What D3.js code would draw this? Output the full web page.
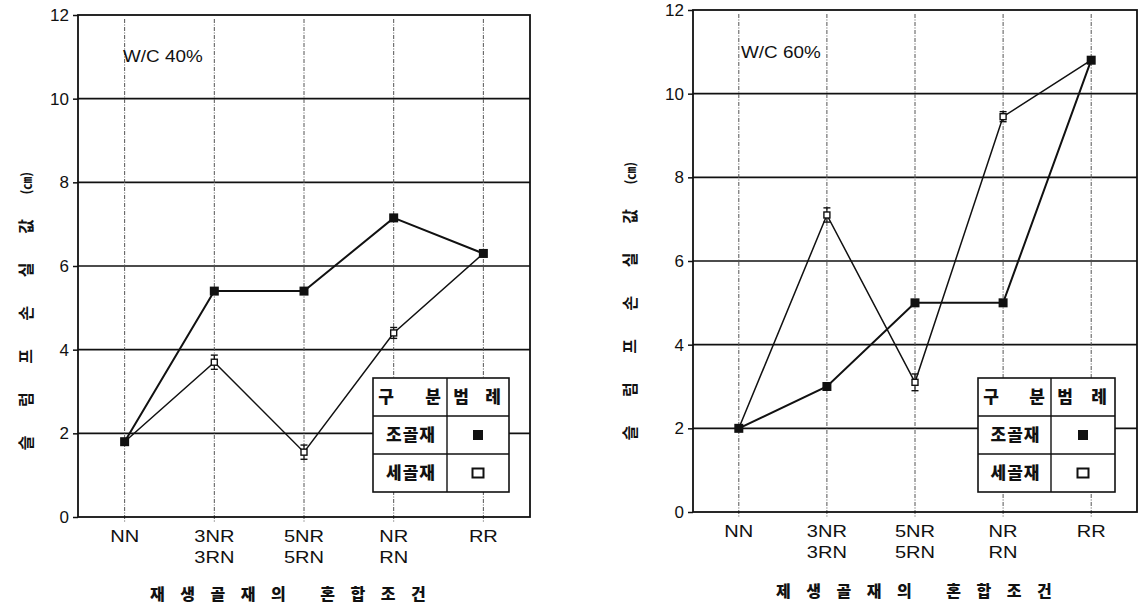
<!DOCTYPE html>
<html>
<head>
<meta charset="utf-8">
<script src="https://cdn.jsdelivr.net/npm/d3@7/dist/d3.min.js"></script>
<style>
  html, body { margin: 0; padding: 0; background: #fff; }
  svg { display: block; }
</style>
</head>
<body>
<svg id="chart" width="1144" height="608"></svg>
<script>
// Mixing conditions of recycled aggregate (two-line tick labels)
const catLine1 = ["NN", "3NR", "5NR", "NR", "RR"];
const catLine2 = ["", "3RN", "5RN", "RN", ""];
const categories = catLine1.map((d, i) => d + (catLine2[i] ? "/" + catLine2[i] : ""));

// Slump loss (cm), W/C 40%
const coarse40 = [1.8, 5.4, 5.4, 7.15, 6.3];
const fine40 = [1.8, 3.7, 1.55, 4.4, 6.3];
const fine40Err = [0, 0.17, 0.17, 0.13, 0];

// Slump loss (cm), W/C 60%
const coarse60 = [2.0, 3.0, 5.0, 5.0, 10.8];
const fine60 = [2.0, 7.1, 3.1, 9.45, 10.8];
const fine60Err = [0, 0.17, 0.2, 0.12, 0];

const yTicks = [0, 2, 4, 6, 8, 10, 12];
const yTitleChars = ["슬", "럼", "프", "손", "실", "값", "(㎝)"];
const legendHead = [["구", "분"], ["범", "례"]];
const seriesNames = ["조골재", "세골재"];

const svg = d3.select("#chart");
const latin = "'Liberation Sans', Arial, Helvetica, sans-serif";
const hangul = "'Noto Sans CJK KR', 'Noto Sans', sans-serif";

function drawPanel(cfg) {
  const g = svg.append("g");
  const x = d3.scalePoint().domain(categories).range([cfg.left, cfg.right]).padding(0.52);
  const y = d3.scaleLinear().domain([0, 12]).range([cfg.bottom, cfg.top]);

  // horizontal grid lines
  g.selectAll("line.grid").data(yTicks.filter(v => v > 0 && v < 12)).join("line")
    .attr("x1", cfg.left).attr("x2", cfg.right)
    .attr("y1", d => y(d)).attr("y2", d => y(d))
    .attr("stroke", "#111").attr("stroke-width", 1.6);

  // dash-dot category guides, running a little below the axis
  g.selectAll("line.vguide").data(categories).join("line")
    .attr("x1", d => x(d)).attr("x2", d => x(d))
    .attr("y1", cfg.top + 4).attr("y2", cfg.bottom + 6)
    .attr("stroke", "#555").attr("stroke-width", 1)
    .attr("stroke-dasharray", "4,1.5,1,1.5");

  // y axis ticks and labels
  const yAxis = d3.axisLeft(y).tickValues(yTicks).tickSize(5).tickPadding(4).tickFormat(d3.format("d"));
  const ya = g.append("g").attr("transform", `translate(${cfg.left},0)`).call(yAxis);
  ya.select(".domain").remove();
  ya.selectAll(".tick line").attr("stroke", "#111").attr("stroke-width", 1.5);
  ya.selectAll(".tick text").attr("font-family", latin).attr("font-size", 17).attr("fill", "#111");

  // x category labels (two lines)
  const xl = g.selectAll("g.xlab").data(categories).join("g")
    .attr("transform", d => `translate(${x(d)},${cfg.xLabelY}) scale(1.18,1)`);
  xl.append("text").attr("text-anchor", "middle").attr("font-family", latin).attr("font-size", 17)
    .attr("fill", "#111").text((d, i) => catLine1[i]);
  xl.append("text").attr("text-anchor", "middle").attr("font-family", latin).attr("font-size", 17)
    .attr("fill", "#111").attr("y", 21).text((d, i) => catLine2[i]);

  // x axis title
  g.append("text").attr("x", cfg.xTitleX).attr("y", cfg.xTitleY)
    .attr("font-family", hangul).attr("font-size", 16).attr("font-weight", 900)
    .attr("letter-spacing", 15.5).attr("fill", "#111").text(cfg.xTitle);

  // y axis title, rotated, one glyph at a time
  g.selectAll("text.ytitle").data(yTitleChars).join("text")
    .attr("transform", (d, i) => `translate(${cfg.yTitleX},${cfg.yTitleBottom - i * 43.3}) rotate(-90)`)
    .attr("text-anchor", "middle").attr("dy", "0.36em")
    .attr("font-family", hangul).attr("font-weight", 700)
    .attr("font-size", (d, i) => i === yTitleChars.length - 1 ? 13 : 16)
    .attr("fill", "#111").text(d => d);

  // panel caption
  g.append("text").attr("transform", `translate(${cfg.captionX},${cfg.captionY}) scale(1.18,1)`)
    .attr("font-family", latin).attr("font-size", 16).attr("fill", "#111").text(cfg.caption);

  const line = d3.line().x((d, i) => x(categories[i])).y(d => y(d));

  // fine aggregate series
  g.append("path").datum(cfg.fine).attr("d", line)
    .attr("fill", "none").attr("stroke", "#111").attr("stroke-width", 1.5);
  // coarse aggregate series
  g.append("path").datum(cfg.coarse).attr("d", line)
    .attr("fill", "none").attr("stroke", "#111").attr("stroke-width", 2);

  // error bars on fine aggregate
  const eb = g.selectAll("g.err").data(cfg.fine.map((v, i) => ({ v, e: cfg.fineErr[i], c: categories[i] })).filter(d => d.e > 0)).join("g");
  eb.append("line").attr("x1", d => x(d.c)).attr("x2", d => x(d.c))
    .attr("y1", d => y(d.v - d.e)).attr("y2", d => y(d.v + d.e))
    .attr("stroke", "#111").attr("stroke-width", 1.2);
  [-1, 1].forEach(s => {
    eb.append("line").attr("x1", d => x(d.c) - 3.5).attr("x2", d => x(d.c) + 3.5)
      .attr("y1", d => y(d.v + s * d.e)).attr("y2", d => y(d.v + s * d.e))
      .attr("stroke", "#111").attr("stroke-width", 1.4);
  });

  // fine aggregate markers (open squares)
  g.selectAll("rect.fine").data(cfg.fine).join("rect")
    .attr("x", (d, i) => x(categories[i]) - 3).attr("y", d => y(d) - 3)
    .attr("width", 6).attr("height", 6)
    .attr("fill", "#fff").attr("stroke", "#111").attr("stroke-width", 1.4);

  // coarse aggregate markers (filled squares)
  g.selectAll("rect.coarse").data(cfg.coarse).join("rect")
    .attr("x", (d, i) => x(categories[i]) - 4.5).attr("y", d => y(d) - 4.5)
    .attr("width", 9).attr("height", 9).attr("fill", "#111");

  // plot frame
  g.append("rect").attr("x", cfg.left).attr("y", cfg.top)
    .attr("width", cfg.right - cfg.left).attr("height", cfg.bottom - cfg.top)
    .attr("fill", "none").attr("stroke", "#111").attr("stroke-width", 1.8);

  // legend table
  const L = cfg.legend;
  const lg = g.append("g");
  lg.append("rect").attr("x", L.x0).attr("y", L.y0).attr("width", L.x1 - L.x0).attr("height", L.y1 - L.y0)
    .attr("fill", "#fff").attr("stroke", "#111").attr("stroke-width", 1.6);
  const rowH = (L.y1 - L.y0) / 3;
  [1, 2].forEach(r => lg.append("line").attr("x1", L.x0).attr("x2", L.x1)
    .attr("y1", L.y0 + r * rowH).attr("y2", L.y0 + r * rowH).attr("stroke", "#111").attr("stroke-width", 1.4));
  lg.append("line").attr("x1", L.xm).attr("x2", L.xm).attr("y1", L.y0).attr("y2", L.y1)
    .attr("stroke", "#111").attr("stroke-width", 1.4);
  const cellText = (txt, cx, row, ls) => lg.append("text").attr("x", cx).attr("y", L.y0 + rowH * (row + 0.5))
    .attr("dy", "0.36em").attr("text-anchor", "middle").attr("font-family", hangul)
    .attr("font-size", 17).attr("font-weight", 900).attr("letter-spacing", ls || 0).attr("fill", "#111").text(txt);
  const c1 = (L.x0 + L.xm) / 2, c2 = (L.xm + L.x1) / 2;
  cellText(legendHead[0][0], L.x0 + 13, 0);
  cellText(legendHead[0][1], L.xm - 14, 0);
  cellText(legendHead[1][0], L.xm + 14, 0);
  cellText(legendHead[1][1], L.x1 - 16, 0);
  cellText(seriesNames[0], c1 + 1, 1, 1);
  cellText(seriesNames[1], c1 + 1, 2, 1);
  lg.append("rect").attr("x", c2 - 5).attr("y", L.y0 + rowH * 1.5 - 5).attr("width", 10).attr("height", 10).attr("fill", "#111");
  lg.append("rect").attr("x", c2 - 5.5).attr("y", L.y0 + rowH * 2.5 - 4.5).attr("width", 11).attr("height", 9)
    .attr("fill", "#fff").attr("stroke", "#111").attr("stroke-width", 2);
}

drawPanel({
  left: 78, right: 530, top: 15, bottom: 517,
  coarse: coarse40, fine: fine40, fineErr: fine40Err,
  caption: "W/C 40%", captionX: 123, captionY: 62,
  xLabelY: 542, xTitle: "재생골재의 혼합조건", xTitleX: 150, xTitleY: 600,
  yTitleX: 26, yTitleBottom: 443,
  legend: { x0: 373, x1: 509, y0: 378, y1: 492, xm: 447 }
});

drawPanel({
  left: 693, right: 1137, top: 10, bottom: 512,
  coarse: coarse60, fine: fine60, fineErr: fine60Err,
  caption: "W/C 60%", captionX: 741, captionY: 58,
  xLabelY: 537, xTitle: "제생골재의 혼합조건", xTitleX: 776, xTitleY: 597,
  yTitleX: 630, yTitleBottom: 433,
  legend: { x0: 978, x1: 1115, y0: 378, y1: 492, xm: 1051 }
});
</script>
</body>
</html>
